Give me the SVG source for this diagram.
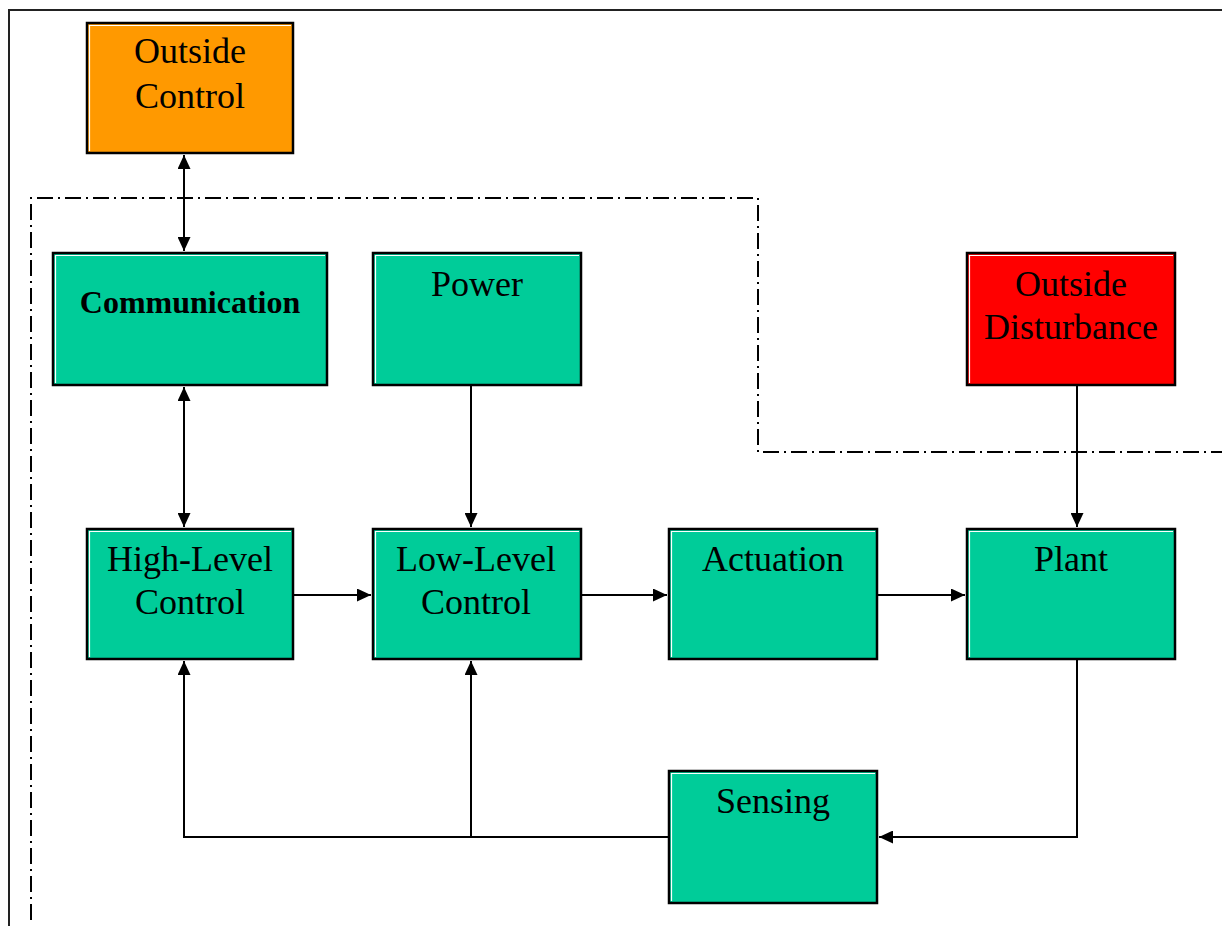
<svg xmlns="http://www.w3.org/2000/svg" width="1222" height="926" viewBox="0 0 1222 926">
<style>
.box{stroke:#000;stroke-width:2.5}
.hl{fill:none;stroke:#fff;stroke-width:1.2}
.g{fill:#00cc99}
.t{font-family:"Liberation Serif","Times New Roman",serif;font-size:36px;fill:#000;text-anchor:middle}
.b{font-weight:bold;font-size:32px}
.c{fill:none;stroke:#000;stroke-width:2}
.dd{fill:none;stroke:#000;stroke-width:2;stroke-dasharray:16 5 2 5}
</style>
<defs>
<marker id="ah" viewBox="0 0 14 13" refX="14" refY="6.5" markerWidth="14" markerHeight="13" markerUnits="userSpaceOnUse" orient="auto-start-reverse">
<path d="M0,0 L14,6.5 L0,13 z" fill="#000"/>
</marker>
</defs>
<rect x="0" y="0" width="1222" height="926" fill="#fff"/>
<rect x="9" y="10" width="1240" height="940" fill="none" stroke="#222" stroke-width="2"/>
<path class="dd" d="M31,920 V198 H758 V452 H1222"/>
<g id="outside-control">
<rect class="box" x="87" y="23" width="206" height="130" fill="#ff9900"/>
<path class="hl" d="M89.5,151 V25.5 H291"/>
<text class="t" x="190" y="63">Outside</text>
<text class="t" x="190" y="108">Control</text>
</g>
<g id="communication">
<rect class="box g" x="53" y="253" width="274" height="132"/>
<path class="hl" d="M55.5,383 V255.5 H325"/>
<text class="t b" x="190" y="313">Communication</text>
</g>
<g id="power">
<rect class="box g" x="373" y="253" width="208" height="132"/>
<path class="hl" d="M375.5,383 V255.5 H579"/>
<text class="t" x="477" y="296">Power</text>
</g>
<g id="outside-disturbance">
<rect class="box" x="967" y="253" width="208" height="132" fill="#ff0000"/>
<path class="hl" d="M969.5,383 V255.5 H1173"/>
<text class="t" x="1071" y="296">Outside</text>
<text class="t" x="1071" y="339">Disturbance</text>
</g>
<g id="high-level-control">
<rect class="box g" x="87" y="529" width="206" height="130"/>
<path class="hl" d="M89.5,657 V531.5 H291"/>
<text class="t" x="190" y="571">High-Level</text>
<text class="t" x="190" y="614">Control</text>
</g>
<g id="low-level-control">
<rect class="box g" x="373" y="529" width="208" height="130"/>
<path class="hl" d="M375.5,657 V531.5 H579"/>
<text class="t" x="476" y="571">Low-Level</text>
<text class="t" x="476" y="614">Control</text>
</g>
<g id="actuation">
<rect class="box g" x="669" y="529" width="208" height="130"/>
<path class="hl" d="M671.5,657 V531.5 H875"/>
<text class="t" x="773" y="571">Actuation</text>
</g>
<g id="plant">
<rect class="box g" x="967" y="529" width="208" height="130"/>
<path class="hl" d="M969.5,657 V531.5 H1173"/>
<text class="t" x="1071" y="571">Plant</text>
</g>
<g id="sensing">
<rect class="box g" x="669" y="771" width="208" height="132"/>
<path class="hl" d="M671.5,901 V773.5 H875"/>
<text class="t" x="773" y="813">Sensing</text>
</g>
<g id="connectors">
<path class="c" d="M184,155 V251" marker-start="url(#ah)" marker-end="url(#ah)"/>
<path class="c" d="M184,387 V527" marker-start="url(#ah)" marker-end="url(#ah)"/>
<path class="c" d="M471,386 V527" marker-end="url(#ah)"/>
<path class="c" d="M1077,386 V527" marker-end="url(#ah)"/>
<path class="c" d="M294,595 H371" marker-end="url(#ah)"/>
<path class="c" d="M582,595 H667" marker-end="url(#ah)"/>
<path class="c" d="M878,595 H965" marker-end="url(#ah)"/>
<path class="c" d="M1077,660 V837 H879" marker-end="url(#ah)"/>
<path class="c" d="M668,837 H184 V661" marker-end="url(#ah)"/>
<path class="c" d="M471,837 V661" marker-end="url(#ah)"/>
</g>
</svg>
